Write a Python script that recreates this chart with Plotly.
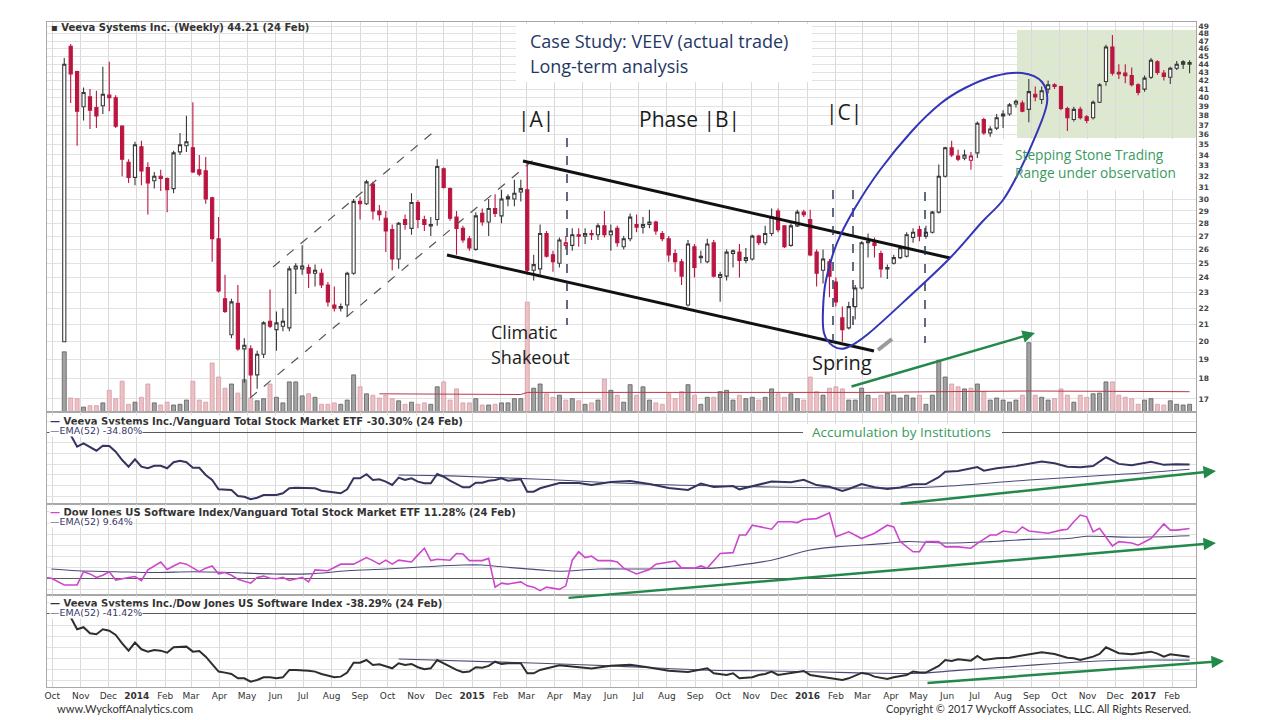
import math
import pandas as pd
import plotly.graph_objects as go
from plotly.subplots import make_subplots

# ---------------- data ----------------
BASE = pd.Timestamp("2013-10-14")          # week of the first weekly bar
N_WEEKS = 176


def wk(i):
    return BASE + pd.Timedelta(days=7 * i)


weeks = [wk(i) for i in range(N_WEEKS)]

opens = [20.0, 46.3, 43.1, 39.0, 40.1, 38.9, 39.1, 40.3, 40.0, 36.9,
         33.3, 31.9, 34.8, 32.8, 31.6, 32.0, 31.8, 30.9, 34.3, 34.9,
         34.7, 32.6, 32.5, 30.1, 26.8, 22.6, 20.4, 22.3, 19.6, 19.6,
         18.2, 19.3, 21.2, 20.7, 20.9, 20.8, 24.6, 24.6, 24.7, 24.3,
         24.3, 23.5, 22.2, 22.1, 22.2, 24.3, 29.8, 29.6, 31.3, 29.0,
         28.4, 27.5, 25.3, 28.3, 27.6, 29.7, 28.3, 27.8, 28.3, 32.7,
         30.9, 28.5, 27.6, 26.8, 26.0, 28.8, 28.1, 29.2, 28.6, 30.2,
         30.0, 30.6, 30.8, 24.5, 24.6, 27.2, 25.6, 25.0, 26.3, 26.3,
         27.1, 27.0, 27.2, 27.1, 27.8, 27.1, 27.6, 26.2, 26.8, 27.9,
         27.7, 27.9, 28.1, 27.2, 26.8, 25.7, 25.1, 22.2, 26.2, 25.4,
         25.1, 26.5, 24.0, 24.1, 25.7, 25.8, 25.2, 25.3, 27.0, 26.5,
         27.2, 29.0, 27.8, 26.3, 27.8, 28.9, 28.3, 25.8, 24.5, 25.1,
         23.7, 21.4, 20.8, 22.1, 23.3, 26.5, 26.5, 25.7, 24.6, 25.0,
         25.4, 25.5, 26.9, 27.5, 27.0, 27.3, 28.9, 32.0, 34.7, 33.9,
         33.7, 33.5, 34.2, 37.6, 36.2, 36.7, 38.0, 38.2, 39.3, 39.4,
         38.7, 40.4, 39.8, 41.0, 41.5, 41.3, 38.8, 37.6, 38.7, 37.9,
         37.8, 39.5, 41.9, 46.2, 43.0, 42.9, 42.6, 41.5, 41.0, 42.4,
         44.3, 42.9, 42.4, 43.5, 44.3, 44.0]
highs = [44.8, 46.6, 43.2, 41.2, 41.0, 40.8, 43.7, 44.3, 40.3, 37.0,
         33.6, 35.3, 35.4, 33.3, 32.4, 32.6, 31.9, 34.4, 36.2, 38.0,
         39.5, 34.0, 33.8, 30.2, 28.5, 24.2, 22.6, 23.5, 20.2, 19.8,
         19.5, 21.2, 23.2, 21.8, 22.0, 24.8, 25.0, 26.3, 24.9, 24.9,
         24.6, 23.7, 23.4, 22.3, 24.4, 30.0, 30.2, 31.7, 31.5, 29.5,
         29.0, 27.9, 28.1, 28.7, 30.5, 29.9, 28.6, 28.5, 33.6, 32.8,
         31.0, 29.0, 27.8, 27.0, 28.9, 29.2, 30.0, 30.4, 30.8, 30.4,
         31.7, 31.7, 33.4, 25.6, 27.9, 27.4, 25.9, 26.9, 27.0, 27.6,
         27.6, 27.6, 27.5, 28.0, 29.0, 27.9, 27.8, 27.0, 28.8, 28.7,
         28.5, 29.1, 28.2, 27.4, 27.0, 26.0, 25.3, 26.7, 26.4, 25.9,
         26.8, 26.7, 24.4, 26.0, 26.0, 26.4, 26.1, 27.1, 27.1, 27.8,
         29.2, 29.2, 27.8, 28.0, 29.1, 29.1, 29.1, 26.0, 26.0, 25.3,
         24.0, 22.1, 22.4, 23.5, 26.6, 27.2, 26.9, 25.9, 24.9, 25.6,
         26.3, 27.3, 27.6, 27.8, 27.8, 29.0, 33.1, 34.8, 35.4, 34.5,
         34.5, 34.3, 37.4, 37.8, 36.9, 38.2, 38.6, 39.4, 39.8, 39.7,
         42.2, 41.3, 41.3, 42.0, 41.7, 41.4, 39.0, 39.0, 39.0, 38.1,
         39.7, 41.7, 46.5, 47.8, 44.0, 44.0, 43.6, 41.7, 42.6, 44.8,
         44.5, 43.3, 43.7, 44.4, 44.5, 44.5]
lows = [20.0, 39.4, 34.9, 37.5, 36.6, 36.7, 38.2, 38.5, 36.7, 32.0,
        31.4, 31.2, 31.2, 28.7, 30.9, 30.7, 28.9, 30.5, 34.0, 34.3,
        32.3, 32.0, 29.6, 25.1, 23.0, 21.7, 20.2, 19.5, 17.8, 17.1,
        17.5, 19.1, 20.8, 19.5, 20.6, 20.6, 22.9, 24.2, 23.3, 23.4,
        23.3, 22.1, 21.8, 21.8, 21.5, 24.2, 28.3, 29.5, 28.3, 28.2,
        25.8, 24.5, 24.6, 27.5, 27.1, 27.6, 27.4, 27.0, 27.8, 30.9,
        28.2, 25.6, 26.5, 25.9, 25.9, 27.8, 27.0, 28.5, 28.0, 29.4,
        29.4, 29.8, 24.2, 23.8, 24.2, 25.4, 24.4, 24.7, 26.0, 25.9,
        26.2, 26.4, 26.7, 26.7, 26.9, 25.9, 26.2, 26.0, 26.6, 27.3,
        27.2, 27.6, 27.1, 26.6, 25.1, 24.4, 23.5, 22.1, 24.0, 25.0,
        25.0, 24.0, 22.4, 23.8, 24.7, 24.0, 25.0, 25.2, 26.3, 26.3,
        27.0, 27.3, 26.1, 26.2, 27.7, 28.5, 25.5, 23.4, 23.6, 22.7,
        22.1, 20.0, 20.7, 21.3, 23.2, 25.4, 25.4, 24.0, 23.9, 24.9,
        25.3, 25.4, 26.5, 26.6, 26.8, 27.2, 28.8, 31.9, 33.8, 33.4,
        33.5, 32.6, 33.7, 36.0, 35.8, 36.5, 36.7, 38.0, 38.9, 38.4,
        37.3, 39.6, 39.3, 40.5, 41.0, 38.6, 36.4, 37.4, 37.6, 37.2,
        37.6, 39.4, 41.4, 42.6, 42.2, 41.7, 41.3, 40.3, 40.7, 42.2,
        42.7, 42.0, 41.6, 43.3, 43.4, 42.9]
closes = [44.0, 42.8, 38.5, 40.6, 38.6, 38.0, 40.4, 40.0, 36.9, 33.6,
          31.9, 35.0, 32.5, 31.4, 32.0, 31.8, 30.8, 34.2, 35.0, 35.3,
          32.4, 32.2, 30.0, 26.8, 23.1, 21.8, 22.4, 19.6, 19.8, 18.2,
          19.3, 21.1, 20.9, 21.1, 21.2, 24.6, 24.8, 24.8, 24.3, 24.5,
          23.5, 22.4, 22.0, 22.0, 24.3, 29.8, 29.6, 31.5, 29.0, 28.7,
          27.4, 25.3, 28.0, 27.9, 29.7, 28.3, 27.9, 27.9, 32.9, 31.0,
          28.4, 27.6, 26.7, 26.1, 28.6, 28.1, 29.2, 28.8, 30.0, 30.0,
          30.5, 30.9, 24.5, 24.9, 27.2, 25.5, 25.1, 26.7, 26.5, 27.1,
          27.0, 27.2, 27.1, 27.8, 27.1, 27.4, 26.5, 26.8, 28.5, 27.7,
          27.9, 28.1, 27.4, 26.8, 25.6, 25.1, 24.1, 26.4, 24.7, 25.5,
          26.4, 24.1, 24.2, 25.8, 25.9, 25.2, 25.4, 27.0, 26.5, 27.2,
          28.5, 27.5, 26.2, 27.8, 28.9, 28.7, 25.6, 24.3, 25.3, 24.1,
          22.4, 20.7, 22.1, 23.3, 26.5, 26.6, 26.3, 24.6, 24.7, 25.4,
          26.1, 27.1, 27.3, 27.0, 27.3, 28.9, 32.0, 34.7, 34.0, 33.6,
          34.0, 33.9, 37.2, 36.2, 36.6, 37.8, 38.2, 39.2, 39.6, 38.5,
          40.7, 40.1, 40.8, 41.5, 41.3, 38.8, 37.8, 38.7, 37.8, 37.5,
          39.5, 41.5, 46.2, 42.9, 42.8, 42.6, 41.5, 40.6, 42.3, 44.5,
          43.0, 42.5, 43.5, 44.0, 44.0, 44.21]
# weekly volume, millions of shares
volume_m = [8.6, 2.0, 1.9, 0.7, 0.9, 0.9, 1.3, 3.1, 1.9, 4.4,
            1.1, 1.4, 2.1, 4.0, 1.3, 1.0, 1.4, 1.0, 1.1, 1.7,
            4.4, 1.7, 1.4, 7.0, 5.0, 3.4, 4.0, 2.7, 4.6, 2.0,
            1.6, 1.9, 4.0, 2.1, 1.3, 4.3, 4.3, 2.3, 2.6, 2.1,
            1.1, 1.1, 1.3, 1.1, 1.7, 5.3, 3.6, 2.6, 2.4, 2.0,
            2.4, 1.9, 1.6, 1.1, 1.4, 1.1, 1.3, 1.1, 3.6, 4.3,
            1.7, 3.3, 1.3, 1.3, 1.9, 1.0, 1.0, 1.1, 1.3, 1.3,
            1.9, 1.9, 15.7, 3.4, 4.0, 2.6, 2.1, 2.4, 1.7, 1.9,
            1.6, 1.1, 1.3, 1.7, 4.7, 3.1, 2.4, 1.4, 3.9, 2.4,
            3.6, 1.7, 1.3, 1.1, 2.6, 1.9, 2.9, 3.9, 2.4, 1.1,
            2.1, 2.1, 2.9, 3.1, 1.7, 2.4, 1.9, 2.1, 1.7, 2.1,
            3.3, 2.6, 2.1, 2.6, 1.9, 1.7, 5.0, 2.9, 2.4, 3.4,
            3.6, 3.3, 1.7, 1.7, 3.4, 2.4, 1.9, 2.4, 2.7, 2.4,
            2.0, 2.4, 2.0, 2.4, 1.1, 2.4, 7.4, 5.0, 4.0, 3.6,
            3.3, 3.4, 4.0, 2.9, 1.7, 2.0, 1.7, 1.4, 1.7, 2.4,
            9.9, 2.4, 2.1, 1.7, 1.9, 3.3, 2.4, 1.4, 2.4, 2.1,
            2.6, 2.7, 4.3, 4.3, 2.4, 2.1, 1.9, 1.1, 1.7, 1.9,
            1.1, 1.0, 1.6, 1.1, 1.0, 1.1]
vol_ma = [(49, 2.6), (60, 2.6), (71, 2.5), (72, 2.8), (85, 2.8), (100, 2.7),
          (116, 2.75), (125, 2.8), (136, 2.9), (150, 3.0), (163, 2.95), (175, 2.9)]

# VEEV / VTI price relative (% change)
rel_vti = [(1, -2.8), (2, -13.7), (3, -10.6), (4, -14.3), (5, -17.5), (6, -12.8), (7, -13.1),
           (8, -18.4), (9, -26.2), (10, -32.4), (11, -25.5), (12, -32.4), (13, -33.9),
           (14, -31.5), (15, -31.5), (16, -33.9), (17, -28.3), (18, -26.8), (19, -28.3),
           (20, -33.4), (21, -33.4), (22, -40.2), (23, -44.9), (24, -53.6), (25, -54.2),
           (26, -54.2), (27, -59.8), (28, -60.5), (29, -62.9), (30, -61.4), (31, -58.9),
           (32, -58.9), (33, -58.9), (34, -57.3), (35, -52.6), (36, -52.1), (38, -52.6),
           (39, -52.6), (40, -54.9), (41, -55.8), (42, -56.7), (43, -57.3), (44, -53.6),
           (45, -43.3), (46, -43.3), (47, -39.5), (48, -44.9), (49, -44.2), (50, -46.4),
           (51, -49.5), (52, -42.7), (53, -44.9), (54, -43.3), (55, -46.4), (56, -47.9),
           (57, -47.9), (58, -39.3), (59, -41.8), (60, -45.5), (61, -48.6), (62, -51.7),
           (63, -51.7), (64, -47.4), (65, -47.4), (66, -45.5), (67, -44.9), (68, -43.3),
           (69, -45.5), (70, -44.9), (71, -44.2), (72, -55.8), (73, -55.8), (74, -52.6),
           (77, -47.7), (80, -47.7), (82, -49.5), (85, -46.7), (88, -45.8), (91, -48.6),
           (94, -52.3), (97, -54.2), (99, -48.2), (101, -51.3), (104, -50.5), (105, -53.6),
           (108, -49.5), (110, -46.3), (113, -46.9), (115, -44.6), (117, -49.6), (119, -51.2),
           (121, -55.1), (122, -53.3), (124, -48.7), (126, -51.7), (128, -53.3), (130, -51.8),
           (132, -48.8), (134, -48.7), (136, -42.2), (137, -37.1), (139, -36.4), (142, -32.8),
           (143, -36.1), (145, -33.8), (148, -31.9), (151, -28.4), (152, -27.5), (154, -29.2),
           (156, -32.5), (158, -32.9), (160, -31.8), (162, -23.6), (164, -29.8), (166, -31.0),
           (169, -27.8), (171, -30.7), (173, -30.1), (175, -30.30)]
rel_vti_ema = [(52, -40.2), (60, -41.0), (74, -44.2), (90, -48.6), (110, -51.4), (125, -52.3),
               (135, -51.4), (150, -44.9), (165, -39.3), (175, -34.8)]

# DJ US Software / VTI price relative (% change)
sw_vti = [(-3, 0.2), (-2, 0.0), (0, -1.5), (2, -1.5), (3, 1.5), (4, 1.0), (5, 0.2), (6, 0.7),
          (7, 1.5), (8, -0.4), (10, 0.2), (11, 0.4), (12, -0.5), (13, 1.9), (15, 3.7), (16, 2.0),
          (17, 2.8), (18, 3.5), (19, 3.2), (21, 1.5), (22, 2.3), (23, 2.8), (24, 1.0), (25, 1.3),
          (26, 0.7), (27, -0.2), (29, -1.1), (30, 0.2), (31, 0.5), (32, 0.0), (33, -0.1), (34, 0.2),
          (35, -0.5), (37, 0.2), (38, -0.8), (39, 1.9), (41, 1.7), (42, 2.4), (43, 3.2), (45, 3.2),
          (46, 4.0), (47, 4.7), (48, 4.0), (49, 3.2), (50, 4.1), (51, 3.2), (52, 4.1), (54, 3.7),
          (55, 5.3), (56, 6.8), (57, 4.0), (58, 4.3), (60, 4.1), (61, 5.6), (62, 5.5), (63, 4.0),
          (65, 4.0), (66, 4.5), (67, -2.0), (68, -1.1), (69, -1.3), (71, -0.8), (72, -1.7),
          (73, -2.0), (74, -2.8), (75, -2.0), (77, -2.5), (78, -1.7), (79, 4.1), (80, 6.0),
          (81, 4.7), (82, 5.0), (83, 4.0), (85, 4.0), (86, 3.7), (87, 2.3), (89, 1.0), (91, 2.0),
          (92, 3.2), (95, 3.9), (96, 2.3), (98, 2.3), (99, 2.8), (100, 2.3), (102, 5.6), (104, 5.8),
          (105, 9.8), (106, 9.8), (107, 12.0), (110, 11.1), (111, 12.8), (113, 12.8), (114, 12.6),
          (115, 13.3), (117, 13.5), (119, 14.8), (120, 9.4), (122, 10.5), (124, 9.0), (126, 10.2),
          (128, 12.0), (129, 11.6), (130, 8.3), (132, 6.0), (133, 6.0), (134, 8.3), (136, 8.3),
          (137, 7.1), (139, 7.1), (141, 6.8), (142, 7.9), (144, 9.8), (145, 9.8), (146, 10.7),
          (148, 10.3), (149, 11.6), (150, 10.7), (153, 10.2), (155, 10.9), (156, 11.1),
          (157, 12.8), (158, 14.3), (159, 13.9), (160, 10.5), (161, 11.3), (163, 7.3), (164, 8.3),
          (166, 8.0), (167, 7.5), (169, 9.0), (171, 12.3), (172, 10.9), (173, 10.9), (175, 11.28)]
sw_vti_ema = [(-2, 2.1), (2, 1.7), (8, 1.5), (14, 1.3), (20, 1.5), (26, 1.3), (32, 1.0), (38, 1.0),
              (44, 1.7), (50, 2.1), (56, 2.6), (62, 3.0), (65, 3.0), (68, 2.6), (74, 1.9), (77, 1.6),
              (83, 2.1), (90, 2.1), (96, 2.3), (101, 2.3), (104, 2.8), (110, 4.1), (116, 6.4),
              (120, 7.1), (128, 7.9), (131, 8.3), (137, 8.0), (144, 8.3), (150, 8.8), (156, 9.0),
              (159, 9.5), (166, 9.3), (175, 9.64)]

# VEEV / DJ US Software price relative (% change)
rel_sw = [(1, -3.0), (2, -13.7), (3, -11.9), (4, -17.3), (5, -18.2), (6, -13.7), (7, -15.0),
          (8, -18.8), (9, -26.3), (10, -32.9), (11, -25.7), (12, -31.7), (13, -33.8), (14, -32.3),
          (15, -32.9), (16, -34.7), (17, -29.9), (18, -29.3), (19, -29.3), (20, -33.8), (21, -33.2),
          (22, -38.3), (23, -44.8), (24, -51.7), (25, -52.6), (26, -53.8), (27, -57.7), (28, -57.7),
          (29, -60.7), (30, -59.2), (31, -56.8), (32, -56.8), (33, -57.7), (34, -56.8), (35, -50.2),
          (36, -50.2), (38, -50.9), (39, -51.7), (40, -53.8), (41, -55.6), (42, -56.8), (43, -56.2),
          (44, -52.6), (45, -43.7), (46, -43.7), (47, -41.3), (48, -45.7), (49, -45.1), (50, -46.6),
          (51, -48.7), (52, -44.2), (53, -45.7), (54, -44.8), (55, -47.8), (56, -49.6), (57, -48.7),
          (58, -41.3), (59, -44.2), (60, -47.3), (61, -50.2), (62, -52.3), (63, -51.7), (64, -47.8),
          (65, -48.2), (66, -46.6), (67, -42.8), (68, -44.8), (69, -44.2), (71, -44.2), (72, -53.2),
          (73, -53.2), (74, -50.2), (77, -46.0), (80, -47.5), (82, -49.0), (85, -46.5), (88, -45.5),
          (91, -48.0), (94, -51.0), (97, -52.0), (99, -49.6), (100, -48.7), (101, -53.2),
          (103, -54.7), (104, -53.2), (105, -57.7), (107, -56.8), (108, -54.7), (109, -53.8),
          (110, -51.7), (111, -54.7), (113, -52.9), (115, -51.1), (116, -54.7), (117, -55.6),
          (118, -56.2), (120, -58.6), (121, -59.2), (122, -57.7), (124, -52.9), (125, -53.8),
          (126, -56.2), (128, -58.3), (129, -56.8), (131, -54.7), (132, -51.7), (133, -52.6),
          (134, -52.6), (136, -46.6), (137, -41.3), (138, -42.2), (139, -40.6), (141, -41.9),
          (142, -37.7), (143, -41.3), (145, -39.7), (147, -39.2), (148, -38.3), (149, -37.4),
          (151, -35.2), (152, -34.3), (154, -35.9), (156, -39.2), (157, -39.7), (158, -41.3),
          (160, -38.3), (161, -35.9), (162, -29.9), (163, -32.9), (164, -35.2), (166, -36.1),
          (167, -35.2), (169, -33.8), (170, -35.6), (171, -38.3), (172, -36.1), (173, -37.0),
          (175, -38.29)]
rel_sw_ema = [(52, -40.4), (74, -44.2), (85, -46.6), (99, -50.2), (110, -51.1), (122, -52.6),
              (133, -53.2), (139, -50.6), (151, -45.7), (156, -43.7), (162, -41.9), (168, -41.3),
              (175, -41.42)]

price_ticks = list(range(17, 50))
month_ticks = pd.date_range("2013-10-01", "2017-02-01", freq="MS")

# ---------------- layout helpers ----------------
# plot-area edges in screen pixels; the page body adds an 8 px offset
L, R, T, B = 47, 1196, 22, 687
OFF = 8


def PX(x):
    return (x - L) / (R - L)


def PY(y):
    return (B - y) / (B - T)


GRID = "#E2E2E2"
BORDER = "#A8A8A8"
RED = "#BA1641"
DARK = "#3A3A3A"
NAVY = "#38386A"
GREEN = "#23894A"
SMALL = "DejaVu Sans"
BIG = "Open Sans"
FOOT = "Lato"


def xy(pairs):
    return [wk(i) for i, _ in pairs], [v for _, v in pairs]


fig = make_subplots(rows=4, cols=1, shared_xaxes=True, vertical_spacing=0,
                    specs=[[{"secondary_y": True}], [{}], [{}], [{}]])

# volume (below candles)
up = [i == 0 or closes[i] >= closes[i - 1] for i in range(N_WEEKS)]
vol_fill = ["#A3A3A3" if u else "#EBC1C6" for u in up]
vol_edge = ["#5E5E5E" if u else "#D59AA3" for u in up]
fig.add_trace(go.Bar(x=weeks, y=volume_m, width=0.62 * 7 * 86400000,
                     marker=dict(color=vol_fill, line=dict(color=vol_edge, width=0.8)),
                     hoverinfo="skip", showlegend=False), row=1, col=1, secondary_y=False)
mx, my = xy(vol_ma)
fig.add_trace(go.Scatter(x=mx, y=my, mode="lines", line=dict(color="#B53A4C", width=1),
                         hoverinfo="skip", showlegend=False), row=1, col=1, secondary_y=False)

# candles: black when close >= previous close, red otherwise
for flag, col in ((True, DARK), (False, RED)):
    ids = [i for i in range(N_WEEKS) if up[i] == flag]
    fig.add_trace(go.Candlestick(
        x=[weeks[i] for i in ids], open=[opens[i] for i in ids], high=[highs[i] for i in ids],
        low=[lows[i] for i in ids], close=[closes[i] for i in ids],
        increasing=dict(line=dict(color=col, width=1.1), fillcolor="white"),
        decreasing=dict(line=dict(color=col, width=1.1), fillcolor=col),
        hoverinfo="skip", showlegend=False), row=1, col=1, secondary_y=True)

# relative strength panels
for row, main, ema, mcol, mw in ((2, rel_vti, rel_vti_ema, "#34345E", 2.0),
                                  (3, sw_vti, sw_vti_ema, "#CC47CC", 1.6),
                                  (4, rel_sw, rel_sw_ema, "#2E2E2E", 2.0)):
    ex, ey = xy(ema)
    fig.add_trace(go.Scatter(x=ex, y=ey, mode="lines", line=dict(color="#4A4A78", width=1.1,
                  shape="spline"), hoverinfo="skip", showlegend=False), row=row, col=1)
    lx, ly = xy(main)
    fig.add_trace(go.Scatter(x=lx, y=ly, mode="lines", line=dict(color=mcol, width=mw),
                             hoverinfo="skip", showlegend=False), row=row, col=1)

# axes
month_text = []
for d in month_ticks:
    month_text.append(f"<b>{d.year}</b>" if d.month == 1 else d.strftime("%b"))
for r in range(1, 5):
    fig.update_xaxes(row=r, col=1, domain=[0, 1], range=["2013-09-25 05:00", "2017-02-27"],
                     tickvals=list(month_ticks), ticktext=month_text, showgrid=True,
                     gridcolor="#DADADA", gridwidth=1, showline=True, mirror=True,
                     linecolor=BORDER, ticks="", rangeslider_visible=False,
                     showticklabels=(r == 4), zeroline=False,
                     tickfont=dict(family=SMALL, size=9, color="#333"))

doms = {1: [PY(412), 1.0], 2: [PY(504), PY(412)], 3: [PY(595), PY(504)], 4: [0.0, PY(595)]}
fig.update_yaxes(row=1, col=1, secondary_y=False, domain=doms[1], range=[0, 390 / 7],
                 visible=False, showgrid=False, zeroline=False)
fig.update_yaxes(row=1, col=1, secondary_y=True, type="log",
                 range=[math.log10(16.38), math.log10(49.61)], side="right",
                 tickvals=price_ticks, ticktext=[str(v) for v in price_ticks],
                 showgrid=True, gridcolor=GRID, showline=True, mirror=True, linecolor=BORDER,
                 ticks="", zeroline=False,
                 tickfont=dict(family=SMALL, size=7.5, color="#444", weight="bold"))
for r, rng, dt in ((2, [-67.3, 18.7], 10), (3, [-3.77, 16.8], 2.5), (4, [-65.5, 17.0], 10)):
    fig.update_yaxes(row=r, col=1, domain=doms[r], range=rng, dtick=dt, showgrid=True,
                     gridcolor=GRID, showticklabels=False, ticks="", showline=True,
                     mirror=True, linecolor=BORDER, zeroline=True, zerolinecolor="#5A5A5A",
                     zerolinewidth=1)

# ---------------- annotation overlays ----------------
shapes = []


def seg(x0, y0, x1, y1, color, width, dash="solid", layer="above"):
    shapes.append(dict(type="line", xref="paper", yref="paper", x0=PX(x0), y0=PY(y0),
                       x1=PX(x1), y1=PY(y1), line=dict(color=color, width=width, dash=dash),
                       layer=layer))


def box(x0, y0, x1, y1, fill, layer):
    shapes.append(dict(type="rect", xref="paper", yref="paper", x0=PX(x0), y0=PY(y0),
                       x1=PX(x1), y1=PY(y1), fillcolor=fill, line=dict(width=0), layer=layer))


box(1017, 30, 1196, 138, "#DDE9CE", "below")
box(516, 24, 812, 82, "white", "above")
box(1003, 139, 1195, 190, "white", "above")
box(803, 424, 1002, 441, "white", "above")

# up-channel (dashed) and trading range (solid)
seg(250, 398, 538, 156, "#555", 1.2, "dash")
seg(273, 267, 437, 129, "#555", 1.2, "dash")
seg(523, 161, 950, 258, "#111", 3)
seg(447, 255, 874, 351, "#111", 3)
# phase separators
for x, y0, y1 in ((567, 138, 325), (833, 190, 342), (853, 190, 330), (925, 192, 343)):
    seg(x, y0, x, y1, "#1F2D4D", 1.4, "dash")
# pencil cursor
seg(878, 350, 892, 339, "#9A9A9A", 4)

# hand-drawn ellipse around the markup
ell = [(846, 348), (868, 334), (910, 296), (950, 258), (982, 222), (1003, 200), (1020, 170),
       (1036, 135), (1047, 103), (1042, 82), (1022, 73), (995, 76), (965, 88), (940, 104),
       (912, 131), (880, 170), (855, 208), (837, 243), (826, 280), (823, 310), (824, 333),
       (833, 346)]
n = len(ell)
path = f"M {PX(ell[0][0]):.5f},{PY(ell[0][1]):.5f}"
for k in range(n):
    p0, p1, p2, p3 = ell[(k - 1) % n], ell[k], ell[(k + 1) % n], ell[(k + 2) % n]
    c1 = (p1[0] + (p2[0] - p0[0]) / 6, p1[1] + (p2[1] - p0[1]) / 6)
    c2 = (p2[0] - (p3[0] - p1[0]) / 6, p2[1] - (p3[1] - p1[1]) / 6)
    path += (f" C {PX(c1[0]):.5f},{PY(c1[1]):.5f} {PX(c2[0]):.5f},{PY(c2[1]):.5f}"
             f" {PX(p2[0]):.5f},{PY(p2[1]):.5f}")
path += " Z"
shapes.append(dict(type="path", xref="paper", yref="paper", path=path,
                   line=dict(color="#3434B8", width=2), layer="above"))

ann = []


def text(x, y, s, size, color, family=BIG, xanchor="left", bg=None):
    d = dict(x=PX(x), y=PY(y), xref="paper", yref="paper", text=s, showarrow=False,
             xanchor=xanchor, yanchor="middle", font=dict(family=family, size=size, color=color))
    if bg:
        d.update(bgcolor=bg, borderpad=0)
    ann.append(d)


def arrow(tx, ty, hx, hy):
    ann.append(dict(x=PX(hx), y=PY(hy), xref="paper", yref="paper", ax=tx - hx, ay=ty - hy,
                    axref="pixel", ayref="pixel", text="", showarrow=True, arrowhead=2,
                    arrowsize=1, arrowwidth=2.5, arrowcolor=GREEN))


text(49, 27, "<b>▪ Veeva Systems Inc. (Weekly) 44.21 (24 Feb)</b>", 10, "#333", SMALL)
text(49, 421, "<b><span style='color:#34345E'>—</span> Veeva Systems Inc./Vanguard Total Stock "
     "Market ETF -30.30% (24 Feb)</b>", 10, "#333", SMALL, bg="white")
text(49, 430, "—EMA(52) -34.80%", 9.5, NAVY, SMALL, bg="white")
text(49, 512, "<b><span style='color:#CC47CC'>—</span> Dow Jones US Software Index/Vanguard "
     "Total Stock Market ETF 11.28% (24 Feb)</b>", 10, "#333", SMALL, bg="white")
text(49, 521, "—EMA(52) 9.64%", 9.5, NAVY, SMALL, bg="white")
text(49, 603, "<b>— Veeva Systems Inc./Dow Jones US Software Index -38.29% (24 Feb)</b>",
     10, "#333", SMALL, bg="white")
text(49, 612, "—EMA(52) -41.42%", 9.5, NAVY, SMALL, bg="white")

text(528, 41, "Case Study: VEEV (actual trade)", 18, "#1F3864")
text(528, 66, "Long-term analysis", 18, "#1F3864")
text(536, 119, "|A|", 21, "#1C1C1C", xanchor="center")
text(689, 119, "Phase |B|", 21, "#1C1C1C", xanchor="center")
text(844, 112, "|C|", 21, "#1C1C1C", xanchor="center")
text(489, 332, "Climatic", 18, "#1C1C1C")
text(489, 357, "Shakeout", 18, "#1C1C1C")
text(810, 362, "Spring", 20, "#1C1C1C")
text(1013, 155, "Stepping Stone Trading", 13.7, "#3A9A5E")
text(1013, 173, "Range under observation", 13.7, "#3A9A5E")
text(810, 432, "Accumulation by Institutions", 13.5, "#3A9A5E")
text(55, 708, "www.WyckoffAnalytics.com", 11.1, "#333", FOOT)
text(1193, 708, "Copyright © 2017 Wyckoff Associates, LLC. All Rights Reserved.", 10.9, "#333",
     FOOT, xanchor="right")

arrow(850, 387, 1035, 333)
arrow(899, 504, 1216, 471)
arrow(567, 598, 1216, 543)
arrow(926, 683, 1224, 661)

fig.update_layout(width=1280, height=720,
                  margin=dict(l=L - OFF, r=1280 - R + OFF, t=T - OFF, b=720 - B + OFF),
                  paper_bgcolor="white", plot_bgcolor="white", showlegend=False,
                  hovermode=False, shapes=shapes, annotations=ann, bargap=0.3)
fig.write_html("out.html")
